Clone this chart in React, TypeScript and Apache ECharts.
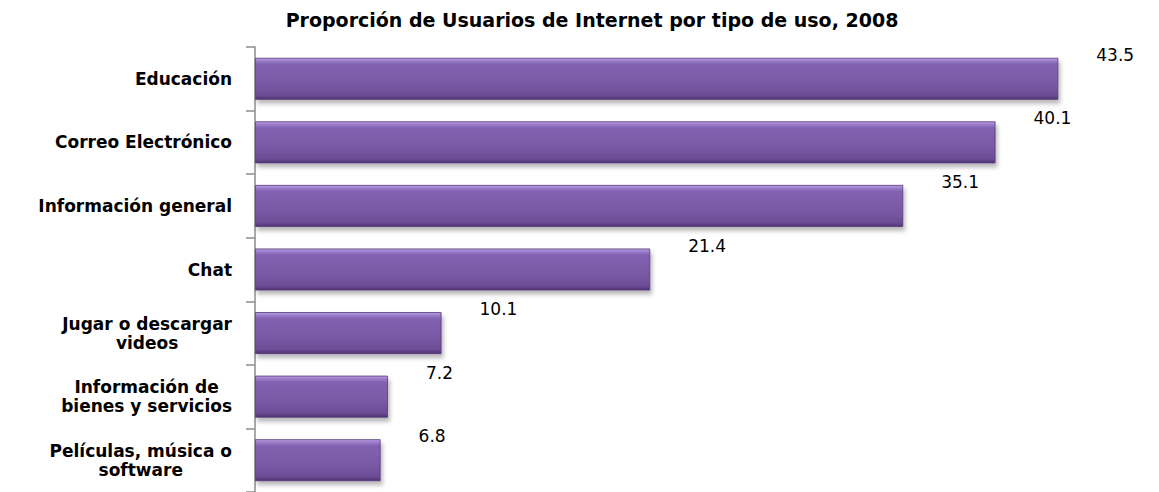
import React, { useEffect, useRef } from "react";
import * as echarts from "echarts";

const TITLE = "Proporción de Usuarios de Internet por tipo de uso, 2008";
const CATEGORIES = [
  "Educación",
  "Correo Electrónico",
  "Información general",
  "Chat",
  "Jugar o descargar\nvideos",
  "Información de\nbienes y servicios",
  "Películas, música o\nsoftware",
];
const VALUES = [43.5, 40.1, 35.1, 21.4, 10.1, 7.2, 6.8];

export default function App() {
  const ref = useRef<HTMLDivElement>(null);
  useEffect(() => {
    document.body.style.margin = "0";
    if (!ref.current) return;
    const chart = echarts.init(ref.current, undefined, { renderer: "svg" });
    const barGradient = new echarts.graphic.LinearGradient(0, 0, 0, 1, [
      { offset: 0, color: "#b89ee0" },
      { offset: 0.07, color: "#9a7ccb" },
      { offset: 0.15, color: "#8262b0" },
      { offset: 0.6, color: "#7a59a5" },
      { offset: 0.9, color: "#6c4d96" },
      { offset: 1, color: "#4c3370" },
    ]);
    chart.setOption({
      animation: false,
      backgroundColor: "#ffffff",
      title: {
        text: TITLE,
        left: 587,
        top: 5,
        textAlign: "center",
        textStyle: {
          fontFamily: "DejaVu Sans",
          fontWeight: "bold",
          fontSize: 19,
          color: "#000000",
        },
      },
      grid: { left: 255, right: 73, top: 47, bottom: -9, containLabel: false },
      xAxis: {
        type: "value",
        min: 0,
        max: 45,
        show: false,
      },
      yAxis: {
        type: "category",
        inverse: true,
        data: CATEGORIES,
        axisLine: { show: true, lineStyle: { color: "#8c8c8c", width: 1.5 } },
        axisTick: { show: true, length: 9, lineStyle: { color: "#8c8c8c", width: 1.5 } },
        axisLabel: {
          margin: 23,
          formatter: (v: string) =>
            v
              .split("\n")
              .map((l) => `{c|${l}}`)
              .join("\n"),
          rich: {
            c: {
              align: "center",
              fontFamily: "DejaVu Sans",
              fontWeight: "bold",
              fontSize: 17,
              lineHeight: 19,
              color: "#000000",
            },
          },
        },
      },
      series: [
        {
          type: "bar",
          data: VALUES,
          barCategoryGap: "34%",
          itemStyle: {
            color: barGradient,
            borderColor: "#55397a",
            borderWidth: 0.8,
            shadowColor: "rgba(0,0,0,0.28)",
            shadowBlur: 4,
            shadowOffsetX: 2,
            shadowOffsetY: 4,
          },
          label: {
            show: true,
            position: "right",
            distance: 38,
            offset: [0, -24],
            fontFamily: "DejaVu Sans",
            fontSize: 17,
            color: "#000000",
            formatter: (p: any) => p.value.toFixed(1),
          },
        },
      ],
    });
    return () => chart.dispose();
  }, []);
  return <div ref={ref} style={{ width: 1159, height: 492 }} />;
}
